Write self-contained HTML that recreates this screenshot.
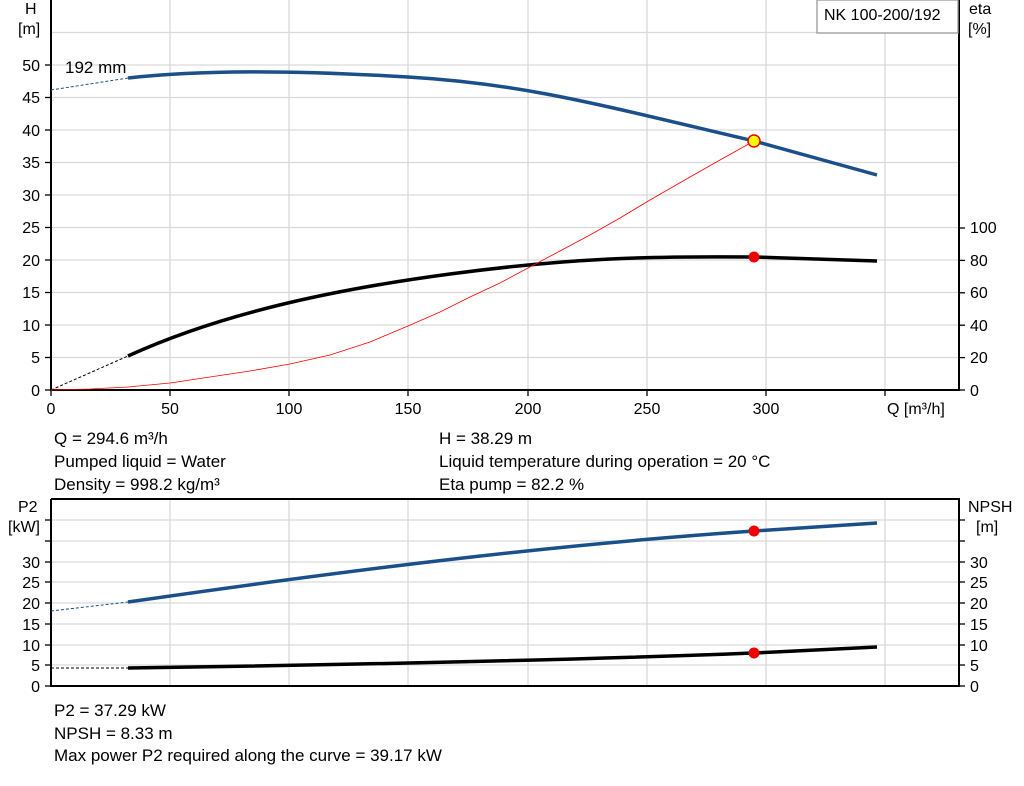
<!DOCTYPE html><html><head><style>body{margin:0;background:#fff}svg text{font-family:"Liberation Sans",sans-serif;font-size:16px;fill:#000}svg text.i{font-size:17px}</style></head><body>
<svg width="1024" height="781" viewBox="0 0 1024 781">
<g stroke="#d9d9d9" stroke-width="1.3">
<line x1="170" y1="0" x2="170" y2="390"/><line x1="289" y1="0" x2="289" y2="390"/><line x1="408" y1="0" x2="408" y2="390"/><line x1="528" y1="0" x2="528" y2="390"/><line x1="647" y1="0" x2="647" y2="390"/><line x1="766" y1="0" x2="766" y2="390"/><line x1="885" y1="0" x2="885" y2="390"/>
<line x1="51" y1="32.5" x2="959" y2="32.5"/><line x1="51" y1="65" x2="959" y2="65"/><line x1="51" y1="97.5" x2="959" y2="97.5"/><line x1="51" y1="130" x2="959" y2="130"/><line x1="51" y1="162.5" x2="959" y2="162.5"/><line x1="51" y1="195" x2="959" y2="195"/><line x1="51" y1="227.5" x2="959" y2="227.5"/><line x1="51" y1="260" x2="959" y2="260"/><line x1="51" y1="292.5" x2="959" y2="292.5"/><line x1="51" y1="325" x2="959" y2="325"/><line x1="51" y1="357.5" x2="959" y2="357.5"/>
<line x1="170" y1="499" x2="170" y2="686"/><line x1="289" y1="499" x2="289" y2="686"/><line x1="408" y1="499" x2="408" y2="686"/><line x1="528" y1="499" x2="528" y2="686"/><line x1="647" y1="499" x2="647" y2="686"/><line x1="766" y1="499" x2="766" y2="686"/><line x1="885" y1="499" x2="885" y2="686"/>
<line x1="51" y1="520" x2="959" y2="520"/><line x1="51" y1="541" x2="959" y2="541"/><line x1="51" y1="562" x2="959" y2="562"/><line x1="51" y1="582" x2="959" y2="582"/><line x1="51" y1="603" x2="959" y2="603"/><line x1="51" y1="624" x2="959" y2="624"/><line x1="51" y1="645" x2="959" y2="645"/><line x1="51" y1="665" x2="959" y2="665"/>
</g>
<g stroke="#000" stroke-width="2" fill="none">
<polyline points="51,0 51,390 959,390 959,0"/>
<polyline points="51,499 51,686 959,686 959,499 51,499"/>
</g>
<g stroke="#000" stroke-width="1.3">
<line x1="45" y1="390" x2="51" y2="390"/><line x1="45" y1="357.5" x2="51" y2="357.5"/><line x1="45" y1="325" x2="51" y2="325"/><line x1="45" y1="292.5" x2="51" y2="292.5"/><line x1="45" y1="260" x2="51" y2="260"/><line x1="45" y1="227.5" x2="51" y2="227.5"/><line x1="45" y1="195" x2="51" y2="195"/><line x1="45" y1="162.5" x2="51" y2="162.5"/><line x1="45" y1="130" x2="51" y2="130"/><line x1="45" y1="97.5" x2="51" y2="97.5"/><line x1="45" y1="65" x2="51" y2="65"/>
<line x1="959" y1="390" x2="965" y2="390"/><line x1="959" y1="357.6" x2="965" y2="357.6"/><line x1="959" y1="325.2" x2="965" y2="325.2"/><line x1="959" y1="292.8" x2="965" y2="292.8"/><line x1="959" y1="260.4" x2="965" y2="260.4"/><line x1="959" y1="228" x2="965" y2="228"/>
<line x1="51" y1="390" x2="51" y2="396"/><line x1="170" y1="390" x2="170" y2="396"/><line x1="289" y1="390" x2="289" y2="396"/><line x1="408" y1="390" x2="408" y2="396"/><line x1="528" y1="390" x2="528" y2="396"/><line x1="647" y1="390" x2="647" y2="396"/><line x1="766" y1="390" x2="766" y2="396"/><line x1="885" y1="390" x2="885" y2="396"/>
<line x1="45" y1="686" x2="51" y2="686"/><line x1="45" y1="665" x2="51" y2="665"/><line x1="45" y1="645" x2="51" y2="645"/><line x1="45" y1="624" x2="51" y2="624"/><line x1="45" y1="603" x2="51" y2="603"/><line x1="45" y1="582" x2="51" y2="582"/><line x1="45" y1="562" x2="51" y2="562"/><line x1="45" y1="541" x2="51" y2="541"/><line x1="45" y1="520" x2="51" y2="520"/>
<line x1="959" y1="686" x2="965" y2="686"/><line x1="959" y1="665" x2="965" y2="665"/><line x1="959" y1="645" x2="965" y2="645"/><line x1="959" y1="624" x2="965" y2="624"/><line x1="959" y1="603" x2="965" y2="603"/><line x1="959" y1="582" x2="965" y2="582"/><line x1="959" y1="562" x2="965" y2="562"/><line x1="959" y1="541" x2="965" y2="541"/><line x1="959" y1="520" x2="965" y2="520"/>
</g>
<rect x="817" y="0" width="141" height="33" fill="#fff" stroke="#999" stroke-width="1.3"/>
<text x="824" y="20">NK 100-200/192</text>
<g text-anchor="end">
<text x="40" y="396">0</text><text x="40" y="363">5</text><text x="40" y="331">10</text><text x="40" y="298">15</text><text x="40" y="266">20</text><text x="40" y="233">25</text><text x="40" y="201">30</text><text x="40" y="168">35</text><text x="40" y="136">40</text><text x="40" y="103">45</text><text x="40" y="71">50</text>
<text x="40" y="692">0</text><text x="40" y="671">5</text><text x="40" y="651">10</text><text x="40" y="630">15</text><text x="40" y="609">20</text><text x="40" y="588">25</text><text x="40" y="568">30</text>
</g>
<text x="25" y="14">H</text><text x="18" y="34">[m]</text>
<text x="969" y="14">eta</text><text x="968" y="34">[%]</text>
<text x="18" y="512">P2</text><text x="8" y="532">[kW]</text>
<text x="968" y="512">NPSH</text><text x="976" y="532">[m]</text>
<g><text x="970" y="396">0</text><text x="970" y="363">20</text><text x="970" y="331">40</text><text x="970" y="298">60</text><text x="970" y="266">80</text><text x="970" y="233">100</text>
<text x="970" y="692">0</text><text x="970" y="671">5</text><text x="970" y="651">10</text><text x="970" y="630">15</text><text x="970" y="609">20</text><text x="970" y="588">25</text><text x="970" y="568">30</text></g>
<g text-anchor="middle"><text x="51" y="414">0</text><text x="170" y="414">50</text><text x="289" y="414">100</text><text x="408" y="414">150</text><text x="528" y="414">200</text><text x="647" y="414">250</text><text x="766" y="414">300</text></g>
<text x="887" y="414">Q [m³/h]</text>
<text x="65" y="73" class="i">192 mm</text>
<g fill="none">
<line x1="51" y1="90" x2="128" y2="78" stroke="#1a4f8a" stroke-dasharray="3,2"/>
<path d="M128,78 C200,70 290,70 408,77 S600,105 754,141 L877,175" stroke="#1a4f8a" stroke-width="3.5"/>
<line x1="51" y1="390" x2="128" y2="356" stroke="#000" stroke-dasharray="3,2"/>
<path d="M128,356 C220,314 330,290 450,274 S650,256 754,257 L877,261" stroke="#000" stroke-width="3.5"/>
<polyline points="51,390 90,389 128,387 170,383 210,377 250,371 290,364 330,355 370,342 408,326 440,312 470,297 500,283 528,268 560,251 590,235 620,218 650,200 690,177 720,160 754,141" stroke="#f00" stroke-width="0.8"/>
<line x1="51" y1="611" x2="128" y2="602" stroke="#1a4f8a" stroke-dasharray="3,2"/>
<path d="M128,602 C350,570 550,545 754,531 L877,523" stroke="#1a4f8a" stroke-width="3.5"/>
<line x1="51" y1="668" x2="128" y2="668" stroke="#000" stroke-dasharray="3,2"/>
<path d="M128,668 C400,664 600,659 754,653 L877,647" stroke="#000" stroke-width="3.5"/>
</g>
<circle cx="754" cy="141" r="6" fill="#ff0" stroke="#e00" stroke-width="1.5"/>
<circle cx="754" cy="257" r="5.5" fill="#e00"/>
<circle cx="754" cy="531" r="5.5" fill="#e00"/>
<circle cx="754" cy="653" r="5.5" fill="#e00"/>
<g class="i"><text class="i" x="54" y="444">Q = 294.6 m³/h</text><text class="i" x="54" y="467">Pumped liquid = Water</text><text class="i" x="54" y="490">Density = 998.2 kg/m³</text>
<text class="i" x="439" y="444">H = 38.29 m</text><text class="i" x="439" y="467">Liquid temperature during operation = 20 °C</text><text class="i" x="439" y="490">Eta pump = 82.2 %</text>
<text class="i" x="54" y="716">P2 = 37.29 kW</text><text class="i" x="54" y="739">NPSH = 8.33 m</text><text class="i" x="54" y="761">Max power P2 required along the curve = 39.17 kW</text></g>
</svg></body></html>
